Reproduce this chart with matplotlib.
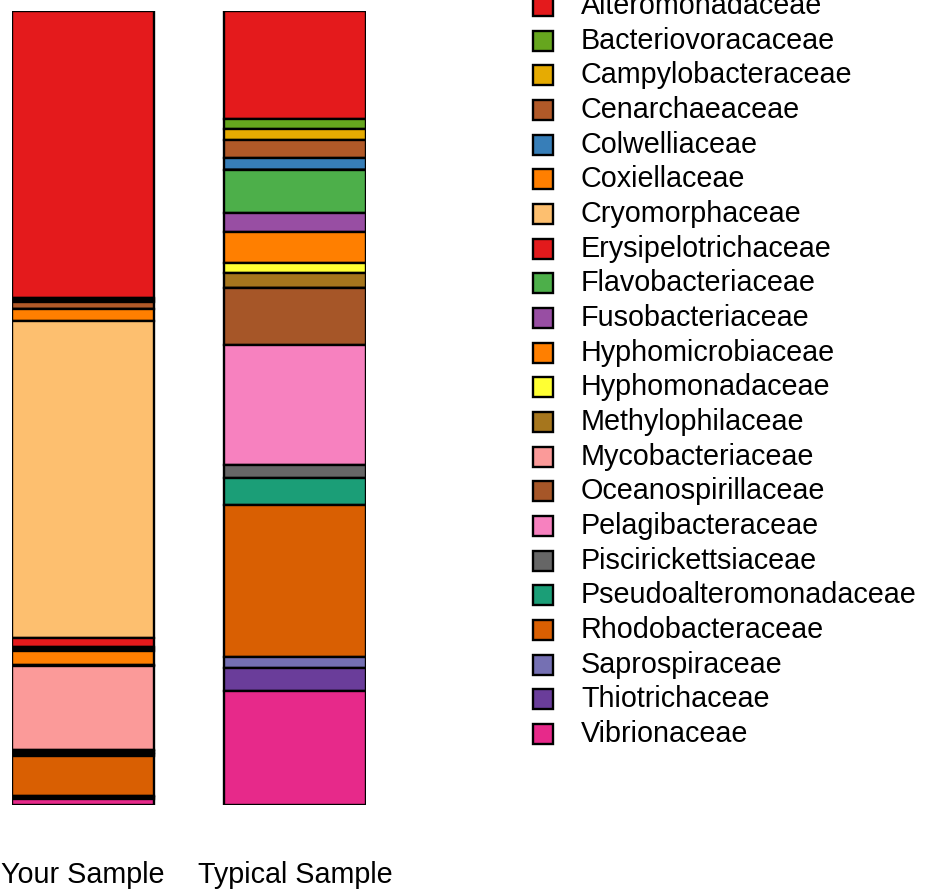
import matplotlib
matplotlib.use("Agg")
import numpy as np
import matplotlib.pyplot as plt
from matplotlib.patches import Rectangle

plt.rcParams['font.family'] = ['Liberation Sans', 'DejaVu Sans']

samples = ["Your Sample", "Typical Sample"]
families = ["Alteromonadaceae", "Bacteriovoracaceae", "Campylobacteraceae", "Cenarchaeaceae",
            "Colwelliaceae", "Coxiellaceae", "Cryomorphaceae", "Erysipelotrichaceae",
            "Flavobacteriaceae", "Fusobacteriaceae", "Hyphomicrobiaceae", "Hyphomonadaceae",
            "Methylophilaceae", "Mycobacteriaceae", "Oceanospirillaceae", "Pelagibacteraceae",
            "Piscirickettsiaceae", "Pseudoalteromonadaceae", "Rhodobacteraceae", "Saprospiraceae",
            "Thiotrichaceae", "Vibrionaceae"]
colors = ["#E41A1C", "#66A61E", "#E6AB02", "#B15928", "#377EB8", "#FF7F00", "#FDBF6F",
          "#E31A1C", "#4DAF4A", "#984EA3", "#FF7F00", "#FFFF33", "#A6761D", "#FB9A99",
          "#A65628", "#F781BF", "#666666", "#1B9E77", "#D95F02", "#7570B3", "#6A3D9A",
          "#E7298A"]

# relative abundance (%)
your_sample = [36.3, 0.2, 0.2, 1.0, 0.0, 1.5, 40.0, 1.1, 0.3, 0.3, 1.7, 0.1,
               0.1, 10.5, 0.2, 0.2, 0.2, 0.2, 5.1, 0.1, 0.2, 0.8]
typical_sample = [13.6, 1.3, 1.3, 2.3, 1.5, 0.0, 0.0, 0.0, 5.4, 2.4, 3.9, 1.3,
                  1.8, 0.0, 7.2, 15.1, 1.6, 3.5, 19.1, 1.3, 2.9, 14.4]

W, H = 927, 890
fig = plt.figure(figsize=(W / 100, H / 100), dpi=100)
ax = fig.add_axes([12 / W, (H - 805) / H, 354 / W, 794 / H])

data = np.array([your_sample, typical_sample])
data = data / data.sum(axis=1, keepdims=True) * 100

x = np.arange(len(samples))
top = np.full(len(samples), 100.0)
for j, name in enumerate(families):
    ax.bar(x, data[:, j], bottom=top - data[:, j], width=0.67,
           color=colors[j], edgecolor="black", linewidth=1.7)
    top = top - data[:, j]

ax.set_xlim(-0.335, 1.335)
ax.set_ylim(0, 100)
ax.set_yticks([])
ax.set_xticks(x)
ax.set_xticklabels(samples, fontsize=20.7)
ax.tick_params(axis="x", length=0, pad=40)
for s in ax.spines.values():
    s.set_visible(False)

# legend
step = 34.67
for i, name in enumerate(families):
    yc = 6 + i * step
    fig.patches.append(Rectangle((533 / W, 1 - (yc + 10) / H), 20 / W, 20 / H,
                                 transform=fig.transFigure, facecolor=colors[i],
                                 edgecolor="black", linewidth=1.7))
    fig.text(581 / W, 1 - yc / H, name, fontsize=20.7, va="center", ha="left")

fig.savefig("out.png", dpi=100)
